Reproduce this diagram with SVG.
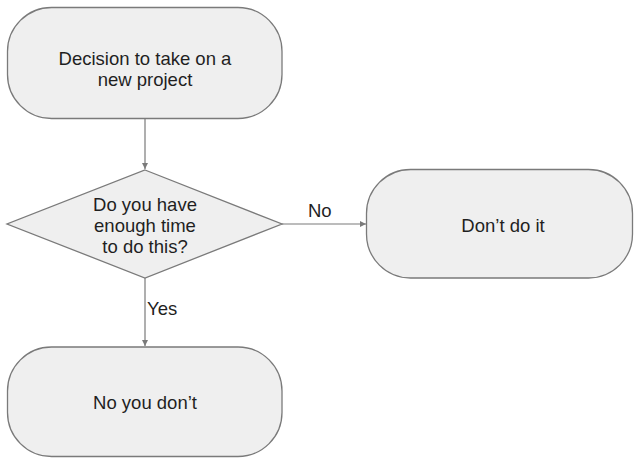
<svg xmlns="http://www.w3.org/2000/svg" width="634" height="458" viewBox="0 0 634 458">
<style>
.shape{fill:#efefef;stroke:#7a7a7a;stroke-width:1.3}
.lbl{font-family:"Liberation Sans",Arial,sans-serif;font-size:18.5px;fill:#1f1f1f;text-anchor:middle}
.edge{fill:none;stroke:#7a7a7a;stroke-width:1.2}
.elbl{font-family:"Liberation Sans",Arial,sans-serif;font-size:18.5px;fill:#1f1f1f}
</style>
<defs>
<marker id="ah" viewBox="0 0 10 10" refX="10" refY="5" markerWidth="6" markerHeight="6" markerUnits="userSpaceOnUse" orient="auto">
<path d="M0,0 L10,5 L0,10 z" fill="#7a7a7a"/>
</marker>
</defs>
<rect width="634" height="458" fill="#ffffff"/>
<g id="connectors">
<line class="edge" x1="145" y1="119" x2="145" y2="169" marker-end="url(#ah)"/>
<line class="edge" x1="282" y1="224" x2="366" y2="224" marker-end="url(#ah)"/>
<text class="elbl" x="308" y="217">No</text>
<line class="edge" x1="145" y1="278" x2="145" y2="346" marker-end="url(#ah)"/>
<text class="elbl" x="147" y="315">Yes</text>
</g>
<g id="start">
<rect class="shape" x="7.5" y="7.5" width="274.5" height="111" rx="44" ry="44"/>
<text class="lbl" x="145" y="65">Decision to take on a</text>
<text class="lbl" x="145" y="86">new project</text>
</g>
<g id="decision">
<polygon class="shape" points="145,170 282,224 145,278 7,224"/>
<text class="lbl" x="145" y="211">Do you have</text>
<text class="lbl" x="145" y="232">enough time</text>
<text class="lbl" x="145" y="253">to do this?</text>
</g>
<g id="dont">
<rect class="shape" x="366.5" y="169.5" width="266" height="108.5" rx="44" ry="44"/>
<text class="lbl" x="503" y="232">Don’t do it</text>
</g>
<g id="noyoudont">
<rect class="shape" x="7.5" y="347" width="274.5" height="109.5" rx="44" ry="44"/>
<text class="lbl" x="145" y="409">No you don’t</text>
</g>
</svg>
